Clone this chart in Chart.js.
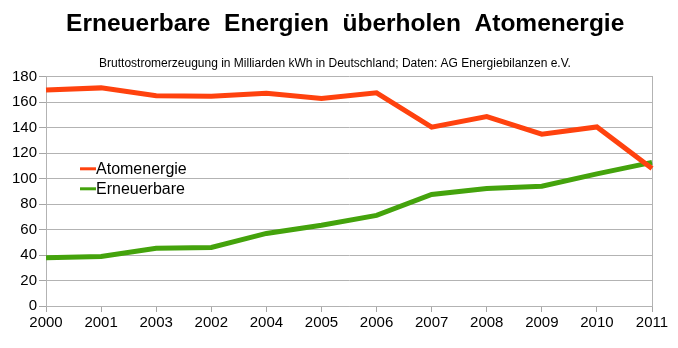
<!DOCTYPE html>
<html>
<head>
<meta charset="utf-8">
<script src="https://cdn.jsdelivr.net/npm/chart.js@4/dist/chart.umd.min.js"></script>
<style>
  html, body { margin: 0; padding: 0; background: #fff; }
  #wrap { position: relative; width: 678px; height: 348px; }
</style>
</head>
<body>
<div id="wrap"><canvas id="energyChart" width="678" height="348"></canvas></div>
<script>
const years = ["2000", "2001", "2003", "2002", "2004", "2005", "2006", "2007", "2008", "2009", "2010", "2011"];
const atomenergie = [169.6, 171.3, 165.1, 164.8, 167.1, 163.0, 167.4, 140.5, 148.8, 134.9, 140.6, 108.0];
const erneuerbare = [37.9, 38.9, 45.3, 46.0, 57.0, 63.4, 71.2, 87.6, 92.3, 94.0, 103.8, 112.8];
const yTicks = [0, 20, 40, 60, 80, 100, 120, 140, 160, 180];

const gridColor = "#b3b3b3";
const fontFamily = "'Liberation Sans', Arial, sans-serif";

// legend drawn inside the plot, left side
const innerLegend = {
    id: "innerLegend",
    afterDatasetsDraw(chart) {
        const ctx = chart.ctx;
        const area = chart.chartArea;
        const x0 = area.left + 34;
        let y = area.top + 92;
        ctx.save();
        ctx.font = "16px " + fontFamily;
        ctx.textBaseline = "middle";
        chart.data.datasets.forEach(ds => {
            ctx.strokeStyle = ds.borderColor;
            ctx.lineWidth = 3;
            ctx.beginPath();
            ctx.moveTo(x0, y);
            ctx.lineTo(x0 + 16, y);
            ctx.stroke();
            ctx.fillStyle = "#000";
            ctx.fillText(ds.label, x0 + 16, y + 1);
            y += 20;
        });
        ctx.restore();
    }
};

new Chart(document.getElementById("energyChart"), {
    type: "line",
    data: {
        labels: years,
        datasets: [
            { label: "Atomenergie", data: atomenergie, borderColor: "#ff420e", borderWidth: 5, pointRadius: 0, tension: 0, fill: false },
            { label: "Erneuerbare", data: erneuerbare, borderColor: "#44a30c", borderWidth: 5, pointRadius: 0, tension: 0, fill: false }
        ]
    },
    options: {
        responsive: false,
        animation: false,
        layout: { padding: { right: 18, left: 10, bottom: 14 } },
        plugins: {
            legend: { display: false },
            tooltip: { enabled: false },
            title: {
                display: true,
                text: "   Erneuerbare  Energien  überholen  Atomenergie",
                color: "#000",
                font: { family: fontFamily, size: 24.5, weight: "bold" },
                padding: { top: 10, bottom: 10 }
            },
            subtitle: {
                display: true,
                text: "Bruttostromerzeugung in Milliarden kWh in Deutschland; Daten: AG Energiebilanzen e.V.",
                color: "#000",
                font: { family: fontFamily, size: 12 },
                padding: { top: 7, bottom: 6 }
            }
        },
        scales: {
            x: {
                offset: false,
                grid: { drawOnChartArea: false, drawTicks: true, tickLength: 6, color: gridColor, tickColor: "#a6a6a6", tickWidth: 1 },
                border: { color: gridColor },
                ticks: { color: "#000", font: { family: fontFamily, size: 15 }, maxRotation: 0, autoSkip: false, padding: 2 }
            },
            y: {
                min: 0,
                max: 180,
                afterBuildTicks(axis) { axis.ticks = yTicks.map(v => ({ value: v })); },
                grid: { color: gridColor, tickLength: 7, tickColor: "#a6a6a6", tickWidth: 1 },
                border: { color: gridColor },
                ticks: { color: "#000", font: { family: fontFamily, size: 15 }, padding: 2 }
            },
            yRight: {
                position: "right",
                min: 0,
                max: 180,
                grid: { display: false },
                border: { display: true, color: gridColor },
                ticks: { display: false }
            }
        }
    },
    plugins: [innerLegend]
});
</script>
</body>
</html>
